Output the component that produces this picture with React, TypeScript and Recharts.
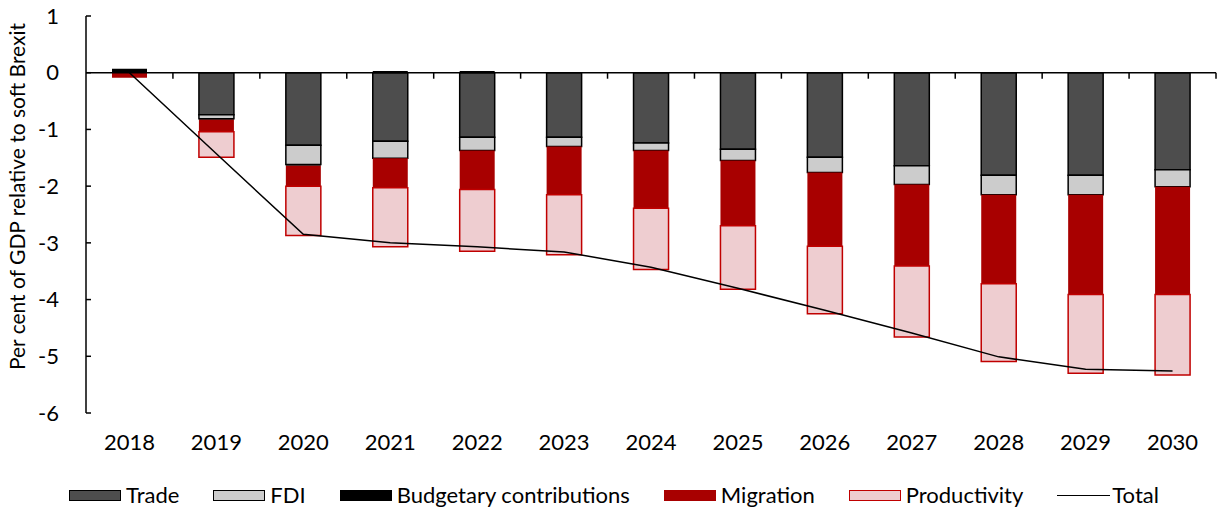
import React from 'react';
import { ComposedChart, Bar, Line, XAxis, YAxis, ReferenceLine, Legend } from 'recharts';

const years = ['2018', '2019', '2020', '2021', '2022', '2023', '2024', '2025', '2026', '2027', '2028', '2029', '2030'];
const trade = [0, -0.74, -1.28, -1.21, -1.14, -1.14, -1.24, -1.35, -1.49, -1.64, -1.81, -1.81, -1.71];
const fdi = [0, -0.07, -0.34, -0.3, -0.23, -0.16, -0.13, -0.2, -0.27, -0.33, -0.34, -0.34, -0.3];
const budgetary = [0.07, -0.02, -0.02, 0.03, 0.03, 0, 0, 0, 0, 0, 0, 0, 0];
const migration = [-0.09, -0.21, -0.36, -0.52, -0.69, -0.85, -1.02, -1.15, -1.3, -1.44, -1.57, -1.76, -1.9];
const productivity = [0, -0.45, -0.87, -1.04, -1.09, -1.06, -1.08, -1.12, -1.19, -1.25, -1.37, -1.39, -1.42];
const total = [0, -1.43, -2.85, -3.0, -3.07, -3.16, -3.43, -3.8, -4.19, -4.59, -5.01, -5.23, -5.26];
const yTicks = [1, 0, -1, -2, -3, -4, -5, -6];
const yLabel = 'Per cent of GDP relative to soft Brexit';

const data = years.map((year, i) => ({
  year,
  trade: trade[i],
  fdi: fdi[i],
  budgetary: budgetary[i],
  migration: migration[i],
  productivity: productivity[i],
  total: total[i],
}));

const FONT = 'Lato, "DejaVu Sans", sans-serif';
const FS = 22;
const C_TRADE = '#4d4d4d';
const C_FDI = '#cccccc';
const C_BUDGET = '#000000';
const C_MIG = '#a80000';
const C_PROD = '#eecdd0';
const C_PROD_STROKE = '#c00000';

const legendItems = [
  { name: 'Trade', kind: 'rect', fill: C_TRADE, stroke: '#000' },
  { name: 'FDI', kind: 'rect', fill: C_FDI, stroke: '#000' },
  { name: 'Budgetary contributions', kind: 'rect', fill: C_BUDGET, stroke: C_BUDGET },
  { name: 'Migration', kind: 'rect', fill: C_MIG, stroke: C_MIG },
  { name: 'Productivity', kind: 'rect', fill: C_PROD, stroke: C_PROD_STROKE },
  { name: 'Total', kind: 'line', fill: 'none', stroke: '#000' },
];

const renderLegend = () => (
  <div
    style={{
      display: 'flex',
      justifyContent: 'center',
      alignItems: 'center',
      height: 30,
      fontSize: FS,
      fontFamily: FONT,
      color: '#000',
      gap: 34,
      paddingLeft: 12,
      boxSizing: 'border-box',
    }}
  >
    {legendItems.map((it) => (
      <div key={it.name} style={{ display: 'flex', alignItems: 'center' }}>
        {it.kind === 'rect' ? (
          <div
            style={{
              width: 50,
              height: 9,
              background: it.fill,
              border: `1.5px solid ${it.stroke}`,
              marginRight: 5,
            }}
          />
        ) : (
          <div style={{ width: 53, height: 0, borderTop: '1.5px solid #000', marginRight: 2 }} />
        )}
        <span style={{ lineHeight: '30px' }}>{it.name}</span>
      </div>
    ))}
  </div>
);

const YTick = (props: any) => {
  const { x, y, payload } = props;
  return (
    <g>
      <line x1={x + 27} x2={x + 32} y1={y} y2={y} stroke="#000" strokeWidth={1.5} />
      <text x={x} y={y} dy="0.35em" textAnchor="end" fontSize={FS} fill="#000" fontFamily={FONT}>
        {payload.value}
      </text>
    </g>
  );
};

const YLabel = (props: any) => {
  const vb = props.viewBox || { x: 0, y: 16, width: 86, height: 397 };
  const cx = vb.x + 18;
  const cy = vb.y + vb.height / 2 - 18;
  return (
    <text
      x={cx}
      y={cy}
      transform={`rotate(-90, ${cx}, ${cy})`}
      textAnchor="middle"
      dy="0.35em"
      fontSize={21}
      fill="#000"
      fontFamily={FONT}
    >
      {yLabel}
    </text>
  );
};

const ZeroAxis = (props: any) => {
  const { x1, x2, y1 } = props;
  const n = years.length;
  const step = (x2 - x1) / n;
  return (
    <g>
      <line x1={x1} x2={x2} y1={y1} y2={y1} stroke="#000" strokeWidth={1.5} />
      {Array.from({ length: n }, (_, i) => (
        <line
          key={i}
          x1={x1 + step * (i + 1)}
          x2={x1 + step * (i + 1)}
          y1={y1}
          y2={y1 + 6}
          stroke="#000"
          strokeWidth={1.5}
        />
      ))}
    </g>
  );
};

export default function App() {
  return (
    <div style={{ position: 'absolute', left: 0, top: 0, fontFamily: FONT, background: '#fff' }}>
      <ComposedChart
        width={1217}
        height={510}
        data={data}
        stackOffset="sign"
        margin={{ top: 16, right: 1, bottom: 0, left: 0 }}
        barSize={35}
      >
        <XAxis
          dataKey="year"
          height={67}
          axisLine={false}
          tickLine={false}
          tickSize={0}
          tickMargin={21}
          interval={0}
          tick={{ fontSize: FS, fill: '#000', fontFamily: FONT }}
        />
        <YAxis
          type="number"
          domain={[-6, 1]}
          ticks={yTicks}
          interval={0}
          width={86}
          axisLine={{ stroke: '#000', strokeWidth: 1.5 }}
          tickLine={false}
          tickSize={0}
          tickMargin={27}
          tick={(p: any) => <YTick {...p} />}
          label={{ content: (p: any) => <YLabel {...p} /> }}
        />
        <Bar dataKey="trade" name="Trade" stackId="a" fill={C_TRADE} stroke="#000" strokeWidth={1.5} isAnimationActive={false} />
        <Bar dataKey="fdi" name="FDI" stackId="a" fill={C_FDI} stroke="#000" strokeWidth={1.5} isAnimationActive={false} />
        <Bar dataKey="budgetary" name="Budgetary contributions" stackId="a" fill={C_BUDGET} isAnimationActive={false} />
        <Bar dataKey="migration" name="Migration" stackId="a" fill={C_MIG} isAnimationActive={false} />
        <Bar
          dataKey="productivity"
          name="Productivity"
          stackId="a"
          fill={C_PROD}
          stroke={C_PROD_STROKE}
          strokeWidth={1.5}
          isAnimationActive={false}
        />
        <ReferenceLine y={0} shape={(p: any) => <ZeroAxis {...p} />} />
        <Line
          dataKey="total"
          name="Total"
          type="linear"
          stroke="#000"
          strokeWidth={1.5}
          dot={false}
          activeDot={false}
          isAnimationActive={false}
        />
        <Legend verticalAlign="bottom" align="center" layout="horizontal" height={30} content={renderLegend} />
      </ComposedChart>
    </div>
  );
}
